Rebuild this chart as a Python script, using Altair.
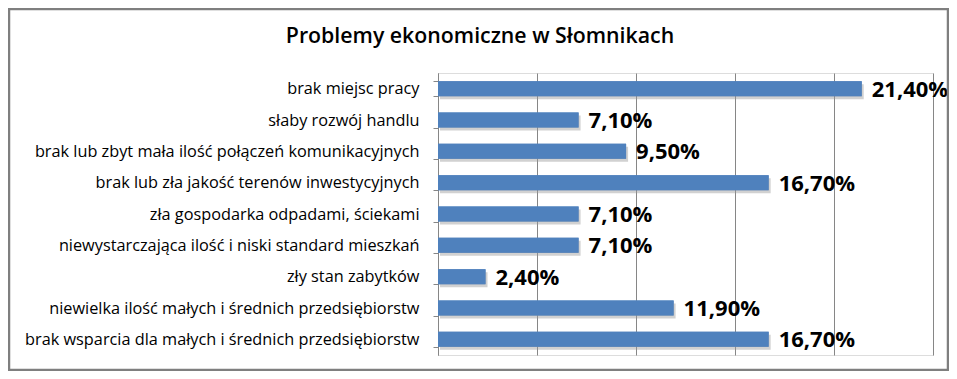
import altair as alt
import pandas as pd

categories = [
    "brak miejsc pracy",
    "słaby rozwój handlu",
    "brak lub zbyt mała ilość połączeń komunikacyjnych",
    "brak lub zła jakość terenów inwestycyjnych",
    "zła gospodarka odpadami, ściekami",
    "niewystarczająca ilość i niski standard mieszkań",
    "zły stan zabytków",
    "niewielka ilość małych i średnich przedsiębiorstw",
    "brak wsparcia dla małych i średnich przedsiębiorstw",
]
values = [21.4, 7.1, 9.5, 16.7, 7.1, 7.1, 2.4, 11.9, 16.7]
x_ticks = [0, 5, 10, 15, 20, 25]
title_text = "Problemy ekonomiczne  w Słomnikach"

df = pd.DataFrame({"cat": categories, "val": values})
df["label"] = [f"{v:.2f}".replace(".", ",") + "%" for v in values]

FONT = "Open Sans"
W, H = 495, 282

x_enc = alt.X(
    "val:Q",
    scale=alt.Scale(domain=[0, 25], nice=False, zero=True),
    axis=alt.Axis(values=x_ticks, labels=False, ticks=False, domain=False,
                  grid=True, gridColor="#868686", gridWidth=1, title=None),
)
y_enc = alt.Y(
    "cat:N",
    sort=None,
    scale=alt.Scale(paddingInner=0.52, paddingOuter=0.26),
    axis=alt.Axis(title=None, tickBand="extent", tickSize=5, tickColor="#868686",
                  domainColor="#868686", labelFontSize=16.3, labelColor="#000000",
                  labelFont=FONT, labelPadding=14, labelLimit=430, grid=False),
)

base = alt.Chart(df)

shadow = base.mark_bar(color="#9a9a9a", opacity=0.45, xOffset=2, x2Offset=2, yOffset=3, y2Offset=3).encode(
    x="val:Q", y=alt.Y("cat:N", sort=None)
)
bars = base.mark_bar(color="#4F81BD").encode(x=x_enc, y=y_enc)
text = base.mark_text(align="left", baseline="middle", dx=10, dy=1, fontSize=22,
                      fontWeight="bold", font=FONT, color="#000000").encode(
    x="val:Q", y=alt.Y("cat:N", sort=None), text="label:N"
)

title = alt.Chart(pd.DataFrame({"t": [title_text]})).mark_text(
    align="center", baseline="alphabetic", fontSize=21.3, fontWeight=600, font=FONT, color="#000000"
).encode(x=alt.value(42), y=alt.value(-30), text="t:N")

frame = alt.Chart(pd.DataFrame({"f": [0]})).mark_rect(
    fill=None, stroke="#7f7f7f", strokeWidth=2.5
).encode(
    x=alt.value(-429), x2=alt.value(W + 15), y=alt.value(-64), y2=alt.value(H + 15)
)

chart = alt.layer(bars, shadow, bars, text, title, frame).properties(
    width=W,
    height=H,
    autosize=alt.AutoSizeParams(type="none"),
    padding={"left": 430, "top": 65, "right": 16, "bottom": 16},
).configure_view(stroke=None).configure(background="white")

chart.save("out.html", embed_options={"renderer": "svg", "actions": False})
